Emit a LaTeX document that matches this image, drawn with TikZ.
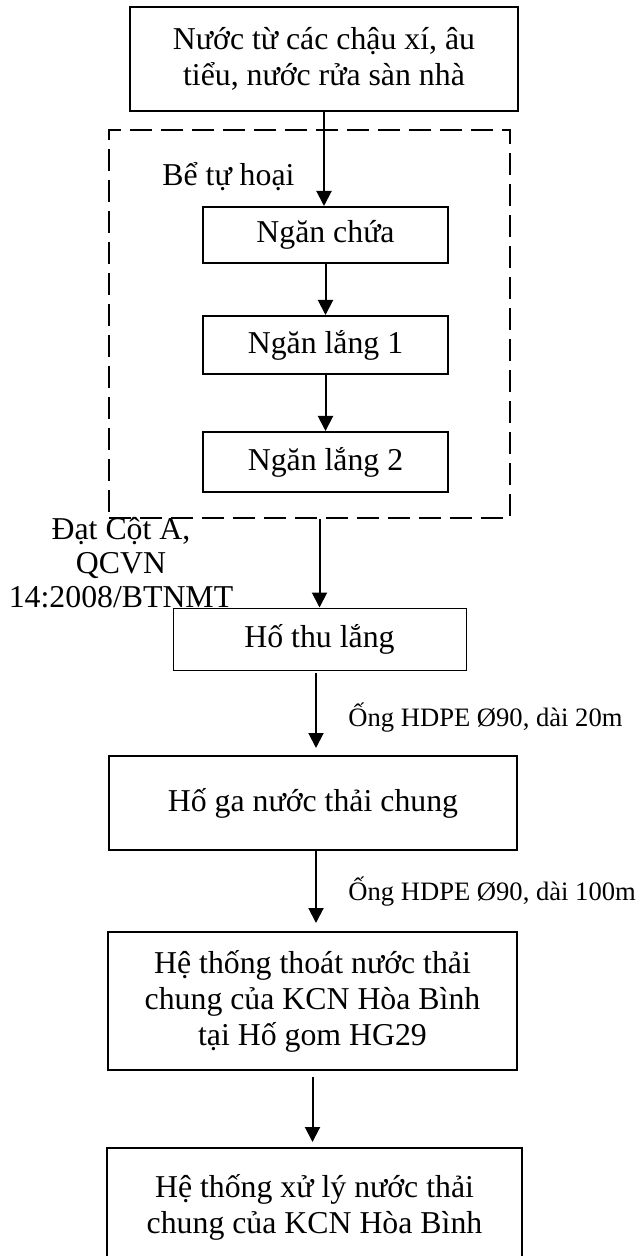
\documentclass[tikz,border=0pt]{standalone}
\usepackage{fontspec}
\setmainfont{Liberation Serif}
\usetikzlibrary{arrows.meta}
\tikzset{
 chart/.style={line cap=butt,line join=miter,font=\fontsize{15.9}{18}\selectfont},
 box/.style={rectangle,draw,line width=1pt,align=center,inner sep=2pt},
 thinbox/.style={box,line width=.5pt},
 tank/.style={rectangle,draw,line width=1pt,dash pattern=on 11pt off 4.5pt},
 flow/.style={draw,line width=1pt,-{Triangle[length=7.5pt,width=7.5pt]}},
 pipe/.style={font=\fontsize{13.3}{15.5}\selectfont,anchor=west,inner sep=0pt},
 note/.style={align=center,inner sep=0pt}
}

\begin{document}
\begin{tikzpicture}[chart,x=.5pt,y=-.5pt]
 \clip (0,0) rectangle (641,1256);
 % septic tank frame and its three chambers
 \node[tank,minimum width=200.5pt,minimum height=194pt] (tank) at (309.5,324) {};
 \node[note,anchor=west] (tanktitle) at (162,177) {Bể tự hoại};
 \node[box,minimum width=194pt,minimum height=52pt] (src) at (324,59) {Nước từ các chậu xí, âu\\tiểu, nước rửa sàn nhà};
 \node[box,minimum width=122.5pt,minimum height=28pt] (chua) at (325.5,235) {Ngăn chứa};
 \node[box,minimum width=122.5pt,minimum height=29pt] (lang1) at (325.5,345) {Ngăn lắng 1};
 \node[box,minimum width=122.5pt,minimum height=30pt] (lang2) at (325.5,462) {Ngăn lắng 2};
 \node[note,font=\fontsize{15.9}{17}\selectfont] (std) at (121,563) {Đạt Cột A,\\QCVN\\14:2008/BTNMT};
 % downstream
 \node[thinbox,minimum width=146.5pt,minimum height=31pt] (thu) at (319.5,639) {Hố thu lắng};
 \node[box,minimum width=204pt,minimum height=47pt] (hoga) at (313,803) {Hố ga nước thải chung};
 \node[box,minimum width=204.5pt,minimum height=69pt] (thoat) at (312.5,1001) {Hệ thống thoát nước thải\\chung của KCN Hòa Bình\\tại Hố gom HG29};
 \node[box,minimum width=207.5pt,minimum height=59pt] (xuly) at (314.5,1207) {Hệ thống xử lý nước thải\\chung của KCN Hòa Bình};
 \node[pipe] (pipe1) at (348,718) {Ống HDPE Ø90, dài 20m};
 \node[pipe] (pipe2) at (348,892) {Ống HDPE Ø90, dài 100m};
 \draw[flow] (src.south) -- (src.south |- chua.north);
 \draw[flow] (chua) -- (lang1);
 \draw[flow] (lang1) -- (lang2);
 \draw[flow] (tank.south -| thu.north) -- (thu.north);
 \draw[flow,shorten >=3.5pt,shorten <=1pt] ([xshift=-1.75pt]thu.south) -- ([xshift=-1.75pt]thu.south |- hoga.north);
 \draw[flow,shorten >=4pt] ([xshift=1.5pt]hoga.south) -- ([xshift=1.5pt]hoga.south |- thoat.north);
 \draw[flow,shorten >=2.5pt,shorten <=3pt] (thoat.south) -- (thoat.south |- xuly.north);
\end{tikzpicture}
\end{document}
